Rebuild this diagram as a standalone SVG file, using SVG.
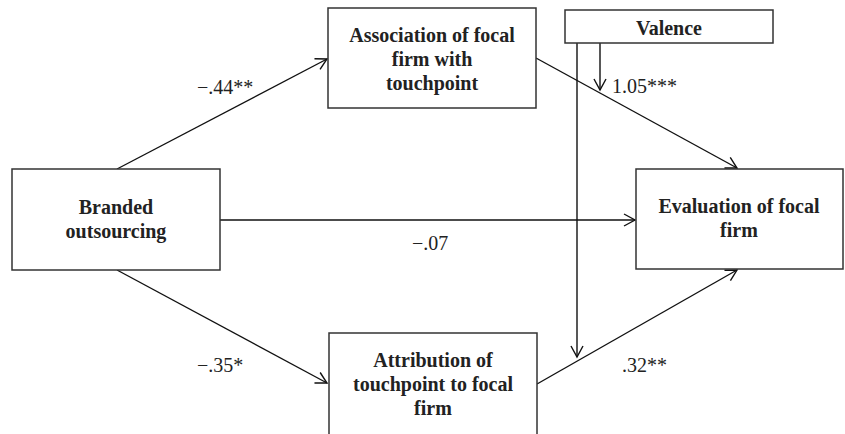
<svg xmlns="http://www.w3.org/2000/svg" width="845" height="434" viewBox="0 0 845 434">
<style>
.box{fill:#fff;stroke:#333;stroke-width:1.5}
.lbl{font-family:'Times New Roman','Liberation Serif',Tinos,'DejaVu Serif',serif;font-weight:bold;font-size:20px;fill:#222;text-anchor:middle}
.coef{font-family:'Times New Roman','Liberation Serif',Tinos,'DejaVu Serif',serif;font-size:20px;fill:#222}
.edge{stroke:#111;stroke-width:1.4;fill:none;marker-end:url(#arr)}
</style>
<defs>
<marker id="arr" markerUnits="userSpaceOnUse" markerWidth="14" markerHeight="14" viewBox="0 0 14 14" refX="12" refY="7" orient="auto">
<path d="M1,1 L12,7 L1,13" fill="none" stroke="#111" stroke-width="1.4"/>
</marker>
</defs>
<rect width="845" height="434" fill="#fff"/>
<g id="connectors">
<line class="edge" x1="117" y1="169" x2="327" y2="59"/>
<line class="edge" x1="117" y1="270" x2="327" y2="383"/>
<line class="edge" x1="220" y1="220" x2="635" y2="220"/>
<line class="edge" x1="536" y1="58" x2="737" y2="168"/>
<line class="edge" x1="537" y1="384" x2="737" y2="270"/>
<line class="edge" x1="577" y1="43" x2="577" y2="357"/>
<line class="edge" x1="600" y1="43" x2="600" y2="90"/>
</g>
<g id="labels">
<text class="coef" x="197" y="94">−.44**</text>
<text class="coef" x="612" y="93">1.05***</text>
<text class="coef" x="412" y="250">−.07</text>
<text class="coef" x="197" y="372">−.35*</text>
<text class="coef" x="622" y="372">.32**</text>
</g>
<g id="association">
<rect class="box" x="328" y="8" width="208" height="100"/>
<text class="lbl" x="432" y="42">Association of focal</text>
<text class="lbl" x="432" y="66">firm with</text>
<text class="lbl" x="432" y="90">touchpoint</text>
</g>
<g id="valence">
<rect class="box" x="565" y="10" width="208" height="33"/>
<text class="lbl" x="669" y="35">Valence</text>
</g>
<g id="branded">
<rect class="box" x="12" y="169" width="208" height="101"/>
<text class="lbl" x="116" y="214">Branded</text>
<text class="lbl" x="116" y="238">outsourcing</text>
</g>
<g id="evaluation">
<rect class="box" x="636" y="169" width="207" height="100"/>
<text class="lbl" x="739" y="213">Evaluation of focal</text>
<text class="lbl" x="739" y="237">firm</text>
</g>
<g id="attribution">
<rect class="box" x="329" y="333" width="208" height="120"/>
<text class="lbl" x="433" y="367">Attribution of</text>
<text class="lbl" x="433" y="391">touchpoint to focal</text>
<text class="lbl" x="433" y="415">firm</text>
</g>
</svg>
